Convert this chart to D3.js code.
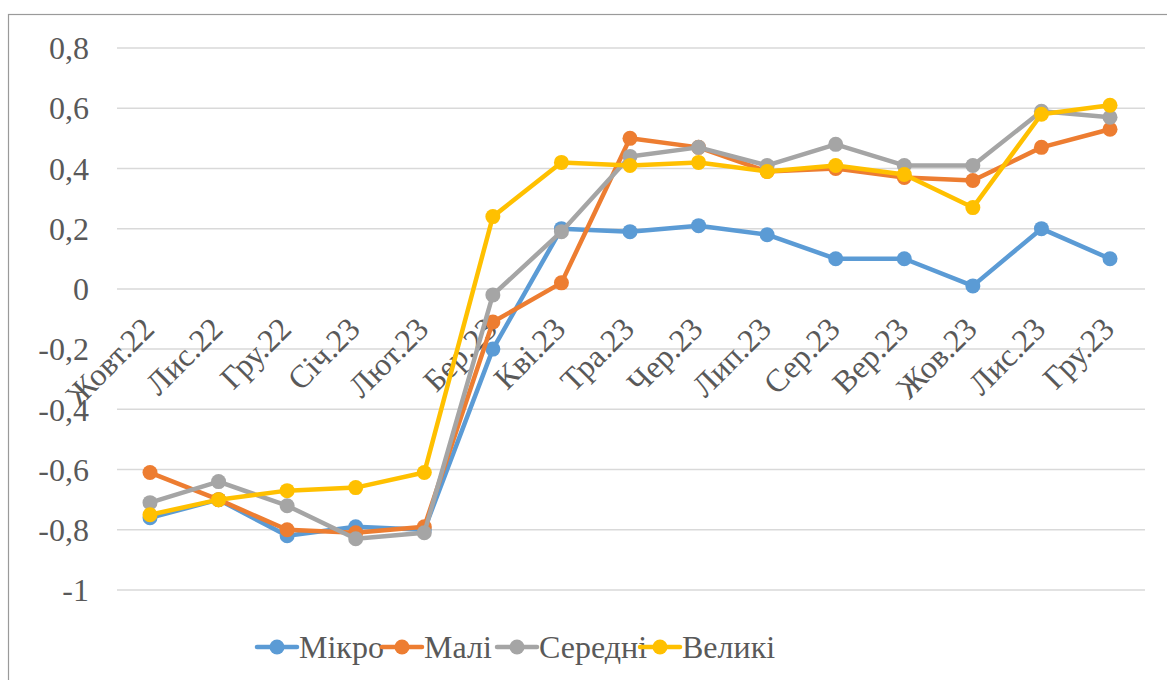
<!DOCTYPE html>
<html>
<head>
<meta charset="utf-8">
<script src="https://cdn.jsdelivr.net/npm/d3@7"></script>
</head>
<body style="margin:0">
<svg width="1167" height="680"></svg>
<script>
var svg = d3.select("svg");
var fontName = "'Times New Roman'";

var months = ["Жовт.22", "Лис.22", "Гру.22", "Січ.23", "Лют.23", "Бер.23", "Кві.23",
    "Тра.23", "Чер.23", "Лип.23", "Сер.23", "Вер.23", "Жов.23", "Лис.23", "Гру.23"];

var mikro   = [-0.76, -0.70, -0.82, -0.79, -0.80, -0.20, 0.20, 0.19, 0.21, 0.18, 0.10, 0.10, 0.01, 0.20, 0.10];
var mali    = [-0.61, -0.70, -0.80, -0.81, -0.79, -0.11, 0.02, 0.50, 0.47, 0.39, 0.40, 0.37, 0.36, 0.47, 0.53];
var seredni = [-0.71, -0.64, -0.72, -0.83, -0.81, -0.02, 0.19, 0.44, 0.47, 0.41, 0.48, 0.41, 0.41, 0.59, 0.57];
var velyki  = [-0.75, -0.70, -0.67, -0.66, -0.61, 0.24, 0.42, 0.41, 0.42, 0.39, 0.41, 0.38, 0.27, 0.58, 0.61];

var yTicks = [0.8, 0.6, 0.4, 0.2, 0, -0.2, -0.4, -0.6, -0.8, -1];

var series = [
    { name: "Мікро", values: mikro, color: "#5B9BD5" },
    { name: "Малі", values: mali, color: "#ED7D31" },
    { name: "Середні", values: seredni, color: "#A5A5A5" },
    { name: "Великі", values: velyki, color: "#FFC000" }
];

// outer chart border (right and bottom edges fall outside the picture)
svg.append("rect")
    .attr("x", 8.5).attr("y", 14.5)
    .attr("width", 1200).attr("height", 700)
    .attr("fill", "none")
    .attr("stroke", "#9a9a9a")
    .attr("stroke-width", 1.2);

var x = d3.scalePoint().domain(months).range([150, 1110]);
var y = d3.scaleLinear().domain([-1, 0.8]).range([590, 48]);

var fmt = function (d) { return String(+d.toFixed(1)).replace(".", ","); };

// gridlines
svg.append("g").selectAll("line")
    .data(yTicks)
    .enter().append("line")
    .attr("x1", 117).attr("x2", 1145)
    .attr("y1", function (d) { return y(d); })
    .attr("y2", function (d) { return y(d); })
    .attr("stroke", "#d9d9d9")
    .attr("stroke-width", 1.5);

// y labels
svg.selectAll("text.ylab")
    .data(yTicks)
    .enter().append("text")
    .attr("class", "ylab")
    .attr("x", 89)
    .attr("y", function (d) { return y(d); })
    .attr("dy", "0.35em")
    .attr("text-anchor", "end")
    .style("font-family", fontName)
    .style("font-size", "32px")
    .attr("fill", "#595959")
    .text(fmt);

// category labels, rotated, hanging under the zero line
svg.selectAll("text.xlab")
    .data(months)
    .enter().append("text")
    .attr("class", "xlab")
    .attr("transform", function (d) { return "translate(" + (x(d) + 6) + "," + (y(0) + 42) + ") rotate(-45)"; })
    .attr("text-anchor", "end")
    .style("font-family", fontName)
    .style("font-size", "32px")
    .attr("fill", "#595959")
    .text(function (d) { return d; });

var line = d3.line()
    .x(function (d, i) { return x(months[i]); })
    .y(function (d) { return y(d); });

series.forEach(function (s) {
    var g = svg.append("g");
    g.append("path")
        .datum(s.values)
        .attr("d", line)
        .attr("fill", "none")
        .attr("stroke", s.color)
        .attr("stroke-width", 4.5)
        .attr("stroke-linejoin", "round")
        .attr("stroke-linecap", "round");
    g.selectAll("circle")
        .data(s.values)
        .enter().append("circle")
        .attr("cx", function (d, i) { return x(months[i]); })
        .attr("cy", function (d) { return y(d); })
        .attr("r", 7.5)
        .attr("fill", s.color);
});

// legend
var legendX = [257, 382, 497, 640];
series.forEach(function (s, i) {
    svg.append("line")
        .attr("x1", legendX[i]).attr("x2", legendX[i] + 40)
        .attr("y1", 647).attr("y2", 647)
        .attr("stroke", s.color)
        .attr("stroke-width", 4.5)
        .attr("stroke-linecap", "round");
    svg.append("circle")
        .attr("cx", legendX[i] + 20)
        .attr("cy", 647)
        .attr("r", 7.5)
        .attr("fill", s.color);
    svg.append("text")
        .attr("x", legendX[i] + 42)
        .attr("y", 647)
        .attr("dy", "0.35em")
        .style("font-family", fontName)
        .style("font-size", "32px")
        .attr("fill", "#595959")
        .text(s.name);
});
</script>
</body>
</html>
